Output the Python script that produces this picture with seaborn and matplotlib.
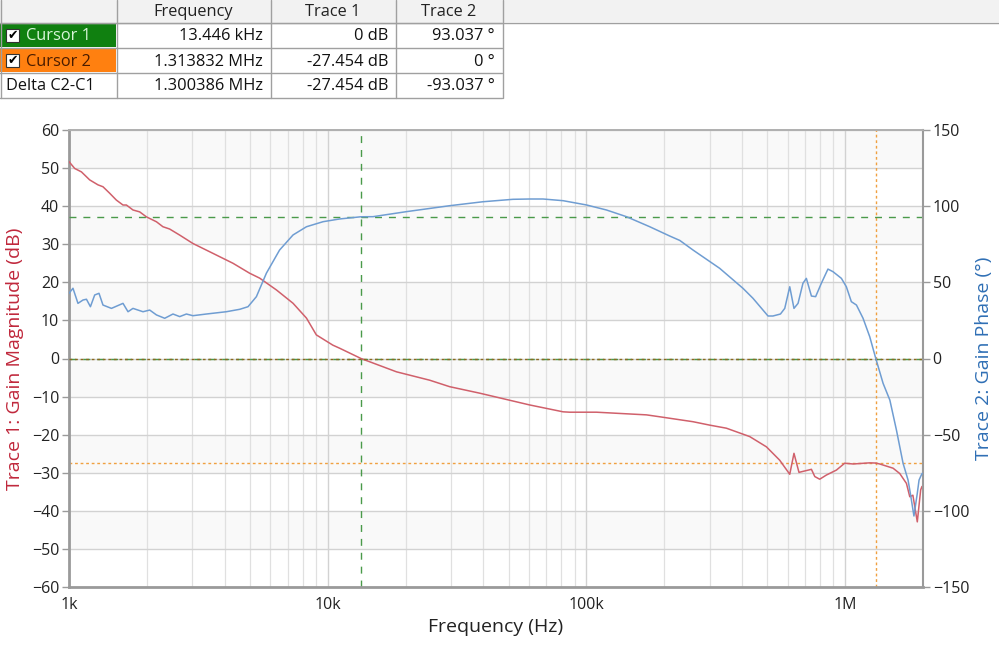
import matplotlib
matplotlib.use("Agg")
import matplotlib.pyplot as plt
import seaborn as sns
import numpy as np
import pandas as pd
from matplotlib.patches import Rectangle
from matplotlib.ticker import FixedLocator, NullFormatter

# ---------------- data ----------------
mag_freq = [1000, 1052, 1117, 1202, 1294, 1353, 1436, 1524, 1617, 1667, 1767, 1876,
            1991, 2178, 2307, 2449, 2679, 3013, 3603, 4305, 4989, 5458, 6336, 7345,
            8279, 9037, 10470, 11120, 13446, 18450, 24790, 29600, 38650, 60370,
            81230, 86140, 109300, 170600, 191900, 258300, 299800, 347500, 427700,
            496500, 558500, 610900, 634300, 663200, 740900, 763400, 797500, 846500,
            925300, 995800, 1074000, 1245000, 1313832, 1361000, 1532000, 1626000,
            1726000, 1778000, 1828000, 1901000, 1959000, 1982000]
mag_db = [51.7, 49.9, 49.0, 46.9, 45.6, 45.1, 43.4, 41.6, 40.3, 40.3, 39.0, 38.5,
          37.2, 35.9, 34.6, 34.0, 32.4, 30.2, 27.6, 25.0, 22.4, 21.1, 18.0, 14.5,
          10.6, 6.2, 3.5, 2.7, 0.0, -3.5, -5.7, -7.4, -9.1, -12.2,
          -14.0, -14.1, -14.1, -14.8, -15.3, -16.6, -17.5, -18.3, -20.5,
          -23.2, -26.7, -30.4, -24.9, -29.9, -29.1, -31.0, -31.7, -30.6,
          -29.3, -27.5, -27.7, -27.4, -27.454, -27.7, -28.8, -30.2,
          -32.8, -36.3, -35.9, -42.9, -34.5, -33.6]

ph_freq = [1000, 1036, 1083, 1133, 1168, 1210, 1257, 1306, 1353, 1459, 1617, 1691,
           1767, 1932, 2051, 2178, 2344, 2523, 2679, 2843, 3013, 3396, 4055, 4571,
           4920, 5301, 5794, 6516, 7345, 8279, 9594, 11120, 13446, 14970, 20150,
           29600, 39810, 52000, 60370, 67980, 81230, 100000, 119500, 142800,
           175700, 209900, 229600, 258300, 327400, 402700, 440500, 503500, 526000,
           562300, 584300, 610900, 634300, 657700, 687100, 708200, 740900, 769100,
           809400, 858300, 897500, 967400, 1011000, 1057000, 1106000, 1173000,
           1245000, 1313832, 1402000, 1489000, 1579000, 1675000, 1751000, 1787000,
           1845000, 1901000, 1931000, 1970000, 1987000]
ph_deg = [42.8, 46.1, 36.2, 38.4, 38.9, 34.0, 41.7, 42.8, 35.1, 32.9, 36.2, 30.7,
          32.9, 30.7, 31.8, 28.6, 26.4, 29.2, 27.5, 29.2, 28.1, 29.2, 30.7, 32.3,
          34.0, 40.6, 56.0, 71.2, 81.1, 86.5, 89.8, 91.6, 93.037, 93.1, 96.4,
          100.3, 102.9, 104.5, 104.7, 104.7, 103.6, 100.8, 97.5, 93.1,
          86.5, 80.4, 77.5, 71.2, 59.2, 46.1, 39.5, 27.9, 27.9,
          29.2, 32.9, 47.1, 32.9, 36.2, 49.4, 52.6, 41.0, 40.6,
          49.4, 58.7, 57.0, 52.6, 47.1, 37.3, 35.1, 26.4,
          14.3, 0.0, -16.3, -27.3, -47.0, -68.8, -79.8, -88.5,
          -103.4, -88.5, -79.8, -76.5, -75.4]

x_ticks = [1e3, 1e4, 1e5, 1e6]
x_tick_labels = ["1k", "10k", "100k", "1M"]
mag_ticks = [60, 50, 40, 30, 20, 10, 0, -10, -20, -30, -40, -50, -60]
ph_ticks = [150, 100, 50, 0, -50, -100, -150]

cursor_freq = [13446, 1313832]
cursor_mag = [0, -27.454]
cursor_ph = [93.037, 0]

table_header = ["", "Frequency", "Trace 1", "Trace 2"]
table_rows = [["Cursor 1", "13.446 kHz", "0 dB", "93.037 °"],
              ["Cursor 2", "1.313832 MHz", "-27.454 dB", "0 °"],
              ["Delta C2-C1", "1.300386 MHz", "-27.454 dB", "-93.037 °"]]

# ---------------- style ----------------
sns.set_theme(style="white")
FONT = ["Open Sans", "DejaVu Sans"]
plt.rcParams["font.family"] = FONT

RED = "#d0606b"
BLUE = "#6f9dd2"
RED_LABEL = "#c0283c"
BLUE_LABEL = "#2f6fb5"
GREEN = "#4a9a4a"
ORANGE = "#f0a040"

fig = plt.figure(figsize=(9.99, 6.52), dpi=100)
W, H = 999, 652
L, R, T, B = 69, 923, 130, 587
ax = fig.add_axes([L / W, 1 - B / H, (R - L) / W, (B - T) / H])
ax2 = ax.twinx()

ax.set_xscale("log")
ax.set_xlim(1e3, 2e6)
ax.set_ylim(-60, 60)
ax2.set_ylim(-150, 150)

# alternating bands
for lo in range(-60, 60, 10):
    if (lo // 10) % 2 != 0:
        ax.axhspan(lo, lo + 10, color="#f9f9f9", zorder=0, lw=0)

# grid
minor = []
for dec in [1e3, 1e4, 1e5, 1e6]:
    for m in range(2, 10):
        v = dec * m
        if v <= 2e6:
            minor.append(v)
ax.xaxis.set_major_locator(FixedLocator(x_ticks))
ax.xaxis.set_minor_locator(FixedLocator(minor))
ax.xaxis.set_minor_formatter(NullFormatter())
ax.set_xticklabels(x_tick_labels)
ax.set_yticks(mag_ticks)
ax2.set_yticks(ph_ticks)
ax.grid(True, which="major", axis="both", color="#d2d2d2", lw=1.0, zorder=1)
ax.grid(True, which="minor", axis="x", color="#e0e0e0", lw=0.9, zorder=1)
ax.set_axisbelow(True)

# cursor lines
ax.axvline(cursor_freq[0], color=GREEN, ls=(0, (5, 5)), lw=1.0, zorder=2)
ax.axvline(cursor_freq[1], color=ORANGE, ls=(0, (2, 2)), lw=1.0, zorder=2)
ax.axhline(cursor_mag[1], color=ORANGE, ls=(0, (2, 2)), lw=1.0, zorder=2)
ax.axhline(cursor_mag[0], color=GREEN, ls=(0, (5, 5)), lw=1.0, zorder=2)
ax2.axhline(cursor_ph[0], color=GREEN, ls=(0, (5, 5)), lw=1.0, zorder=2)
ax2.axhline(cursor_ph[1], color="#8a6a20", ls=(0, (2, 2)), lw=1.0, zorder=2)

mag_df = pd.DataFrame({"f": mag_freq, "v": mag_db})
ph_df = pd.DataFrame({"f": ph_freq, "v": ph_deg})
sns.lineplot(data=mag_df, x="f", y="v", ax=ax, color=RED, lw=1.1, sort=False,
             estimator=None, zorder=4)
sns.lineplot(data=ph_df, x="f", y="v", ax=ax2, color=BLUE, lw=1.1, sort=False,
             estimator=None, zorder=4)
ax.set_xlim(1e3, 2e6)
ax.set_ylim(-60, 60)
ax2.set_ylim(-150, 150)
ax2.set_yticks(ph_ticks)
ax.set_yticks(mag_ticks)

# spines
for s in ["left", "bottom", "right"]:
    ax.spines[s].set_color("#9a9a9a")
    ax2.spines[s].set_color("#9a9a9a")
ax.spines["left"].set_linewidth(2.0)
ax.spines["bottom"].set_linewidth(2.0)
ax2.spines["right"].set_linewidth(1.5)
ax.spines["top"].set_color("#b0b0b0")
ax2.spines["top"].set_color("#b0b0b0")
ax.spines["top"].set_linewidth(1.2)
ax2.spines["left"].set_visible(False)
ax2.spines["bottom"].set_visible(False)

ax.tick_params(axis="y", which="both", length=5, width=1, color="#9a9a9a",
               labelsize=11.5, labelcolor="#222222", pad=2, left=True)
ax.tick_params(axis="x", which="major", length=0, labelsize=11.5,
               labelcolor="#222222", pad=7, bottom=True)
ax.tick_params(axis="x", which="minor", length=0)
ax2.tick_params(axis="y", length=5, width=1, color="#9a9a9a", labelsize=11.5,
                labelcolor="#222222", pad=2, right=True)

ax.set_xlabel("Frequency (Hz)", fontsize=14, color="#222222", labelpad=4)
ax.set_ylabel("Trace 1: Gain Magnitude (dB)", fontsize=14, color=RED_LABEL, labelpad=6)
ax2.set_ylabel("Trace 2: Gain Phase (°)", fontsize=14, color=BLUE_LABEL, labelpad=4)

# ---------------- table ----------------
tab = fig.add_axes([0, 0, 1, 1], zorder=10)
tab.set_xlim(0, W)
tab.set_ylim(H, 0)
tab.axis("off")
tab.patch.set_alpha(0)

col_x = [0, 116, 270, 395, 502]
row_y = [0, 22, 47, 72, 97]
border = "#a0a0a0"
TFS = 11.8
tab.add_patch(Rectangle((0, 0), W, 22, facecolor="#f2f2f2", edgecolor="none"))
tab.plot([0, W], [22.5, 22.5], color=border, lw=1)
tab.add_patch(Rectangle((0, 22.5), 116, 24.5, facecolor="#108010", edgecolor="none"))
tab.add_patch(Rectangle((0, 47.5), 116, 24.5, facecolor="#ff8010", edgecolor="none"))
for y in row_y[1:]:
    tab.plot([0, col_x[-1]], [y + 0.5, y + 0.5], color=border, lw=1)
for x in col_x:
    tab.plot([x + 0.5, x + 0.5], [0, row_y[-1] + 0.5], color=border, lw=1)

for j, h in enumerate(table_header):
    if h:
        tab.text((col_x[j] + col_x[j + 1]) / 2, 12.5, h, ha="center", va="center",
                 fontsize=TFS, color="#222222")
txt_colors = ["#d8f5d8", "#4a1c00", "#111111"]
for i, row in enumerate(table_rows):
    yc = (row_y[i + 1] + row_y[i + 2]) / 2 + 2.0
    if i < 2:
        tab.add_patch(Rectangle((6, yc - 7.5), 13, 13, facecolor="white",
                                edgecolor="#333333", lw=0.8))
        tab.text(12.5, yc - 1, "✔", ha="center", va="center", fontsize=9,
                 color="black", family=["DejaVu Sans"])
        tab.text(26, yc, row[0], ha="left", va="center", fontsize=TFS,
                 color=txt_colors[i])
    else:
        tab.text(6, yc, row[0], ha="left", va="center", fontsize=TFS,
                 color=txt_colors[i])
    for j in range(1, 4):
        tab.text(col_x[j + 1] - 7, yc, row[j], ha="right", va="center",
                 fontsize=TFS, color="#111111")

fig.savefig("out.png", dpi=100)
